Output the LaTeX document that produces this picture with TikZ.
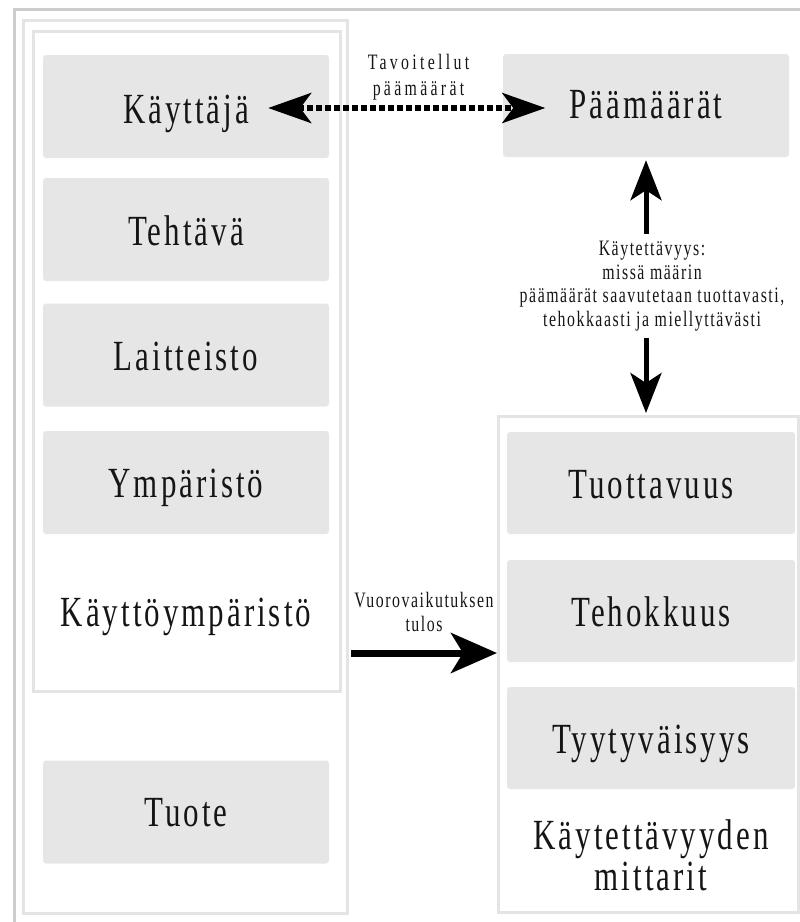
\documentclass[tikz,border=0pt]{standalone}
\usepackage{fontspec}
\setmainfont{Liberation Serif}[FakeStretch=0.72,LetterSpace=7]
\newfontfamily\tavfont{Liberation Serif}[FakeStretch=0.72,LetterSpace=15]
\usetikzlibrary{arrows.meta,calc}
\definecolor{boxgray}{HTML}{E6E6E6}
\definecolor{panelgray}{HTML}{E4E4E4}
\definecolor{framegray}{HTML}{CCCCCC}
\definecolor{inkcol}{HTML}{151515}
\newcommand\fbig{\fontsize{43}{41}\selectfont}
\newcommand\fsmall{\fontsize{22}{23.5}\selectfont}
\begin{document}
\begin{tikzpicture}[x=1pt,y=-1pt,
  graybox/.style={fill=boxgray,draw=none,rounded corners=3pt,minimum width=286pt,minimum height=103pt,inner sep=0pt},
  bigtext/.style={font=\fbig,text=inkcol,inner sep=0pt,align=center},
  smalltext/.style={font=\fsmall,text=inkcol,inner sep=0pt,align=center},
  panel/.style={draw=panelgray,line width=3pt,inner sep=0pt},
  frameline/.style={draw=framegray,line width=3pt},
  dotarrow/.style={line width=6pt,dash pattern=on 6pt off 3pt,
    {Stealth[length=43pt,width=30pt,inset=11pt]}-{Stealth[length=43pt,width=30pt,inset=11pt]}},
  varrow/.style={line width=5pt,-{Stealth[length=40pt,width=31pt,inset=10pt]}},
  harrow/.style={line width=7pt,-{Stealth[length=46pt,width=40pt,inset=12pt]}}
]
\useasboundingbox (0,0) rectangle (800,922);
% outer frame
\draw[frameline] (800,9.5) -- (14.5,9.5) -- (14.5,922);
% left panels
\node[panel,minimum width=324pt,minimum height=892.5pt] (tuotepanel) at (185.5,466.75) {};
\node[panel,minimum width=306.5pt,minimum height=659.5pt] (env) at (186.75,361.25) {};
% left boxes
\node[graybox] (kay) at (186,106.5) {};
\node[bigtext,anchor=base] (kayt) at ([yshift=-17pt]kay.center) {Käyttäjä};
\node[graybox] (teh) at (186,229.5) {};
\node[bigtext,anchor=base] at ([yshift=-16pt]teh.center) {Tehtävä};
\node[graybox] (lai) at (186,355) {};
\node[bigtext,anchor=base] at ([yshift=-15pt]lai.center) {Laitteisto};
\node[graybox] (ymp) at (186,482.5) {};
\node[bigtext,anchor=base] at ([yshift=-15pt]ymp.center) {Ympäristö};
\node[bigtext,anchor=base] (envt) at (186,626) {Käyttöympäristö};
\node[graybox] (tuo) at (186,812) {};
\node[bigtext,anchor=base] at ([yshift=-14pt]tuo.center) {Tuote};
% right top
\node[graybox] (paa) at (646,105.5) {};
\node[bigtext,anchor=base] (paat) at ([yshift=-13pt]paa.center) {Päämäärät};
% right panel
\node[panel,minimum width=300pt,minimum height=496pt] (mit) at (648.5,664.5) {};
\node[graybox,minimum width=288pt,minimum height=102pt] (tuot) at (651,483) {};
\node[bigtext,anchor=base] at ([yshift=-15pt]tuot.center) {Tuottavuus};
\node[graybox,minimum width=288pt,minimum height=102pt] (tehok) at (651,611) {};
\node[bigtext,anchor=base] at ([yshift=-15pt]tehok.center) {Tehokkuus};
\node[graybox,minimum width=288pt,minimum height=102pt] (tyy) at (651,738) {};
\node[bigtext,anchor=base] at ([yshift=-15pt]tyy.center) {Tyytyväisyys};
\node[bigtext,anchor=south] (mitt) at (651,891) {Käytettävyyden\\mittarit};
% dotted double arrow
\coordinate (ky) at (0,108);
\draw[dotarrow] ([xshift=19pt]kayt.east |- ky) -- ([xshift=-24pt]paat.west |- ky);
\node[smalltext,font=\tavfont\fontsize{22}{26}\selectfont,anchor=south] (tav) at (418.5,100.5) {Tavoitellut\\päämäärät};
% vertical arrows with label
\node[smalltext,inner ysep=7pt] (kl) at (652,286) {Käytettävyys:\\missä määrin\\päämäärät saavutetaan tuottavasti,\\tehokkaasti ja miellyttävästi};
\draw[varrow] (kl.north -| paa.south) -- ([yshift=-3pt]paa.south);
\draw[varrow] (kl.south -| paa.south) -- ([yshift=2pt]paa.south |- mit.north);
% horizontal arrow
\coordinate (hy) at (0,653);
\draw[harrow] ([xshift=9.5pt]env.east |- hy) -- (mit.west |- hy);
\node[smalltext,font=\fontsize{22}{24}\selectfont,anchor=south] (vuo) at (424,632) {Vuorovaikutuksen\\tulos};
\end{tikzpicture}
\end{document}
